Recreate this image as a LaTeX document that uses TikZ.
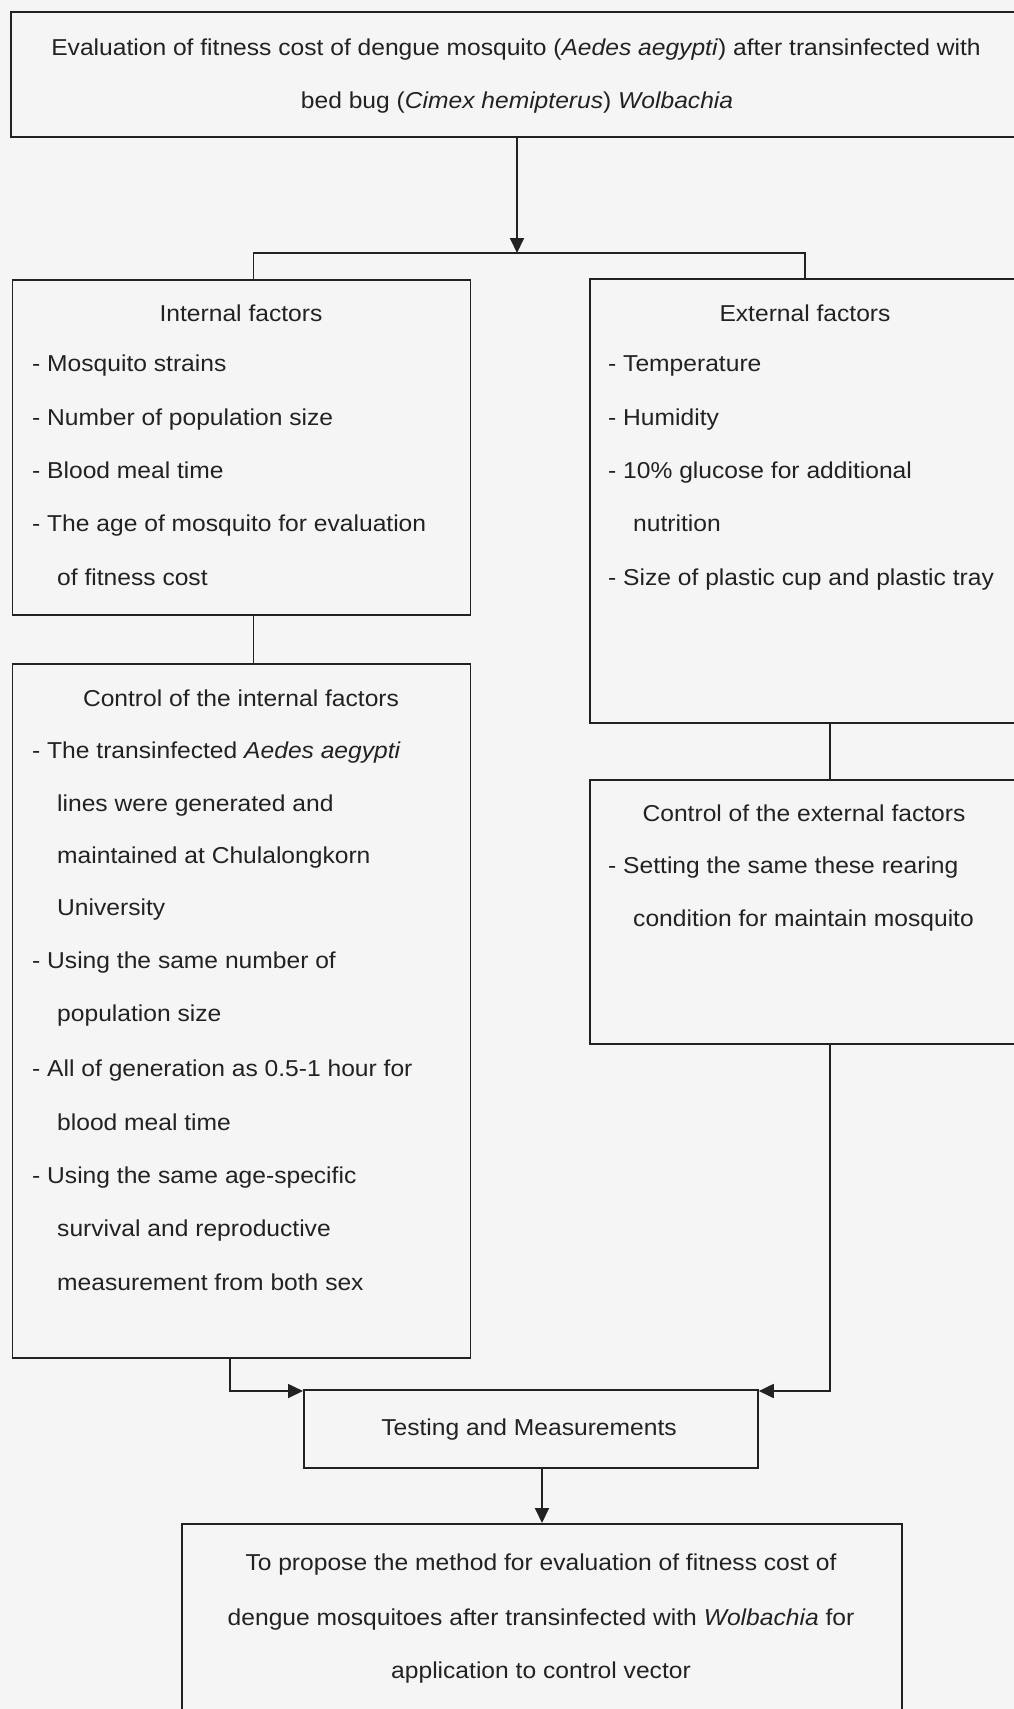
\documentclass[tikz,border=0pt]{standalone}
\usepackage{fontspec}
\setmainfont[FakeStretch=1.07]{Liberation Sans}
\usetikzlibrary{arrows.meta}
\newcommand\fs{\fontsize{23}{27}\selectfont}
\definecolor{bgc}{HTML}{F5F5F5}
\definecolor{ink}{HTML}{222222}
\tikzset{
  box/.style={draw=ink, line width=1.8pt, inner sep=0pt, anchor=north west},
  ln/.style={draw=ink, line width=1.8pt},
  arr/.style={ln, -{Triangle[length=15pt,width=14pt]}},
  txt/.style={font=\fs, text=ink, inner sep=0pt, anchor=base west},
  hd/.style={font=\fs, text=ink, inner sep=0pt, anchor=base},
}
\begin{document}
\begin{tikzpicture}[x=1pt,y=-1pt]
\useasboundingbox (0,0) rectangle (1014,1709);
\clip (0,0) rectangle (1014,1709);
\fill[bgc] (0,0) rectangle (1014,1709);

% boxes
\node[box, minimum width=1020pt, minimum height=125pt] (top) at (10,11) {};
\node[box, minimum width=458pt, minimum height=335pt] (int) at (11.6,279) {};
\node[box, minimum width=441pt, minimum height=444pt] (ext) at (589,278) {};
\node[box, minimum width=458pt, minimum height=694pt] (cint) at (11.6,663) {};
\node[box, minimum width=441pt, minimum height=264pt] (cext) at (589,779) {};
\node[box, minimum width=454pt, minimum height=78pt] (test) at (303,1389) {};
\node[box, minimum width=720pt, minimum height=220pt] (final) at (181,1523) {};

% top text
\node[hd] (t1) at (516,55) {Evaluation of fitness cost of dengue mosquito (\textit{Aedes aegypti}) after transinfected with};
\node[hd] (t2) at (517,108) {bed bug (\textit{Cimex hemipterus}) \textit{Wolbachia}};

% internal factors
\node[hd] (i0) at (241,321) {Internal factors};
\node[txt] (i1) at (32,371) {- Mosquito strains};
\node[txt] (i2) at (32,425) {- Number of population size};
\node[txt] (i3) at (32,478) {- Blood meal time};
\node[txt] (i4) at (32,531) {- The age of mosquito for evaluation};
\node[txt] (i5) at (57,585) {of fitness cost};

% external factors
\node[hd] (e0) at (805,321) {External factors};
\node[txt] (e1) at (608,371) {- Temperature};
\node[txt] (e2) at (608,425) {- Humidity};
\node[txt] (e3) at (608,478) {- 10\% glucose for additional};
\node[txt] (e4) at (633,531) {nutrition};
\node[txt] (e5) at (608,585) {- Size of plastic cup and plastic tray};

% control internal
\node[hd] (c0) at (241,706) {Control of the internal factors};
\node[txt] (c1) at (32,758) {- The transinfected \textit{Aedes aegypti}};
\node[txt] (c2) at (57,811) {lines were generated and};
\node[txt] (c3) at (57,863) {maintained at Chulalongkorn};
\node[txt] (c4) at (57,915) {University};
\node[txt] (c5) at (32,968) {- Using the same number of};
\node[txt] (c6) at (57,1021) {population size};
\node[txt] (c7) at (32,1076) {- All of generation as 0.5-1 hour for};
\node[txt] (c8) at (57,1130) {blood meal time};
\node[txt] (c9) at (32,1183) {- Using the same age-specific};
\node[txt] (c10) at (57,1236) {survival and reproductive};
\node[txt] (c11) at (57,1290) {measurement from both sex};

% control external
\node[hd] (x0) at (804,821) {Control of the external factors};
\node[txt] (x1) at (608,873) {- Setting the same these rearing};
\node[txt] (x2) at (633,926) {condition for maintain mosquito};

% testing
\node[hd] (m0) at (529,1435) {Testing and Measurements};

% final
\node[hd] (f1) at (541,1570) {To propose the method for evaluation of fitness cost of};
\node[hd] (f2) at (541,1625) {dengue mosquitoes after transinfected with \textit{Wolbachia} for};
\node[hd] (f3) at (541,1678) {application to control vector};

% connectors
\coordinate (j) at (517,253);
\coordinate (bl) at (253.5,253);
\coordinate (br) at (805,253);
\coordinate (rx) at (830,0);
\coordinate (lb) at (230,1391);
\coordinate (fx) at (542,0);
\draw[arr] (top.south -| j) -- (j);
\draw[ln] (int.north -| bl) -- (bl) -- (br) -- (ext.north -| br);
\draw[ln] (int.south -| bl) -- (cint.north -| bl);
\draw[ln] (ext.south -| rx) -- (cext.north -| rx);
\draw[arr] (cint.south -| lb) |- (test.west |- lb);
\draw[arr] (cext.south -| rx) |- (test.east |- lb);
\draw[arr] (test.south -| fx) -- (final.north -| fx);
\end{tikzpicture}
\end{document}
